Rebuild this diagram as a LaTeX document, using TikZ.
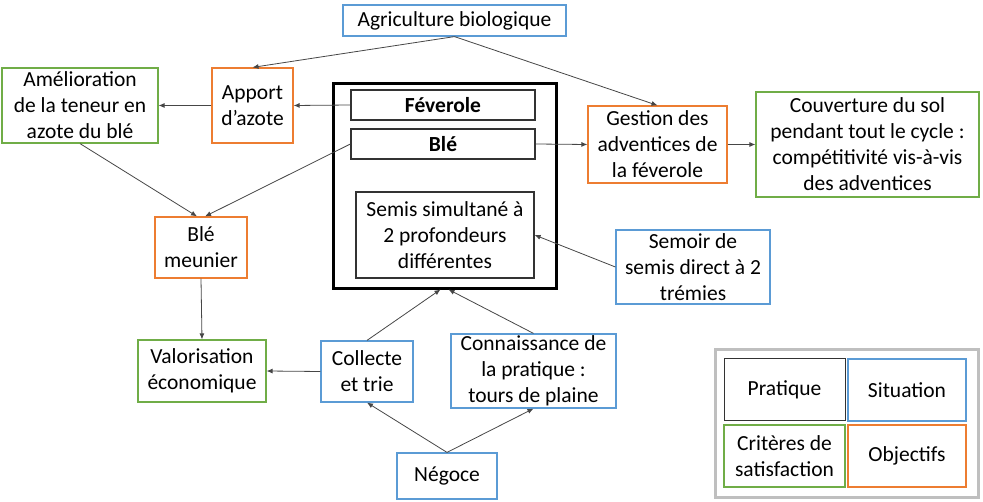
\documentclass[tikz,border=0pt]{standalone}
\usepackage{fontspec}
\setmainfont{Carlito}
\usetikzlibrary{arrows.meta,calc}
\definecolor{cblue}{RGB}{91,155,213}
\definecolor{corange}{RGB}{237,125,49}
\definecolor{cgreen}{RGB}{112,173,71}
\definecolor{cline}{RGB}{70,70,70}
\definecolor{cgray}{RGB}{191,191,191}
\tikzset{
  bx/.style={draw, line width=1.2pt, inner sep=0pt, align=center, font=\fontsize{21.5}{26}\selectfont, fill=white},
  bblue/.style={bx, draw=cblue},
  borange/.style={bx, draw=corange},
  bgreen/.style={bx, draw=cgreen},
  bblack/.style={bx, draw=black!80},
  conn/.style={draw=cline, line width=0.8pt, -{Latex[length=6pt,width=5pt]}},
}
\begin{document}
\begin{tikzpicture}[x=1pt,y=-1pt]
\useasboundingbox (0,0) rectangle (983,502);
% big practice box
\node[draw=black, line width=3pt, minimum width=223pt, minimum height=205pt, inner sep=0pt] (big) at (444.5,186.5) {};
\node[bblack, minimum width=184pt, minimum height=30pt] (fev) at (443,105) {\textbf{Féverole}};
\node[bblack, minimum width=184pt, minimum height=30pt] (ble) at (443,144) {\textbf{Blé}};
\node[bblack, minimum width=178pt, minimum height=86pt] (semis) at (445,235) {Semis simultané à\\2 profondeurs\\différentes};
% other boxes
\node[bblue, minimum width=223pt, minimum height=31pt] (agri) at (454.5,20.5) {Agriculture biologique};
\node[bgreen, minimum width=156pt, minimum height=75pt] (amel) at (80,105.5) {Amélioration\\de la teneur en\\azote du blé};
\node[borange, minimum width=81pt, minimum height=75pt] (apport) at (252.5,105.5) {Apport\\d’azote};
\node[borange, minimum width=92pt, minimum height=61pt] (meunier) at (201,247.5) {Blé\\meunier};
\node[borange, minimum width=139pt, minimum height=77pt] (gestion) at (657.5,144.5) {Gestion des\\adventices de\\la féverole};
\node[bgreen, minimum width=223pt, minimum height=105pt] (couv) at (867.5,144.5) {Couverture du sol\\pendant tout le cycle :\\compétitivité vis-à-vis\\des adventices};
\node[bblue, minimum width=154pt, minimum height=74pt] (semoir) at (693,267) {Semoir de\\semis direct à 2\\trémies};
\node[bgreen, minimum width=128pt, minimum height=62pt] (valo) at (202,371) {Valorisation\\économique};
\node[bblue, minimum width=92pt, minimum height=61pt] (collecte) at (367,371.5) {Collecte\\et trie};
\node[bblue, minimum width=165pt, minimum height=74pt] (connais) at (533.5,371) {Connaissance de\\la pratique :\\tours de plaine};
\node[bblue, minimum width=100pt, minimum height=46pt] (negoce) at (447,476) {Négoce};
% legend
\node[draw=cgray, line width=3pt, minimum width=263pt, minimum height=147pt, inner sep=0pt] (legend) at (846.5,423.5) {};
\node[bblack, line width=1pt, minimum width=121pt, minimum height=62pt] (lprat) at (784.5,390) {Pratique};
\node[bblue, minimum width=118pt, minimum height=62pt] (lsit) at (907,390) {Situation};
\node[bgreen, minimum width=121pt, minimum height=62pt] (lcrit) at (784.5,456) {Critères de\\satisfaction};
\node[borange, minimum width=118pt, minimum height=62pt] (lobj) at (907,456) {Objectifs};
% connectors
\draw[conn] (agri.south) -- (apport.north);
\draw[conn] (agri.south) -- (gestion.north);
\draw[conn] (fev.west) -- (apport.east);
\draw[conn] (apport.west) -- (amel.east);
\draw[conn] (amel.south) -- ($(meunier.north)+(-4,0)$);
\draw[conn] (ble.west) -- ($(meunier.north)+(4,0)$);
\draw[conn] (ble.east) -- (gestion.west);
\draw[conn] (gestion.east) -- (couv.west);
\draw[conn] (semoir.west) -- (semis.east);
\draw[conn] (meunier.south) -- (valo.north);
\draw[conn] (collecte.west) -- (valo.east);
\draw[conn] (collecte.north) -- ($(big.south)+(-4,-1)$);
\draw[conn] (connais.north) -- ($(big.south)+(4,-1)$);
\draw[conn] (negoce.north) -- (collecte.south);
\draw[conn] (negoce.north) -- (connais.south);
\end{tikzpicture}
\end{document}
